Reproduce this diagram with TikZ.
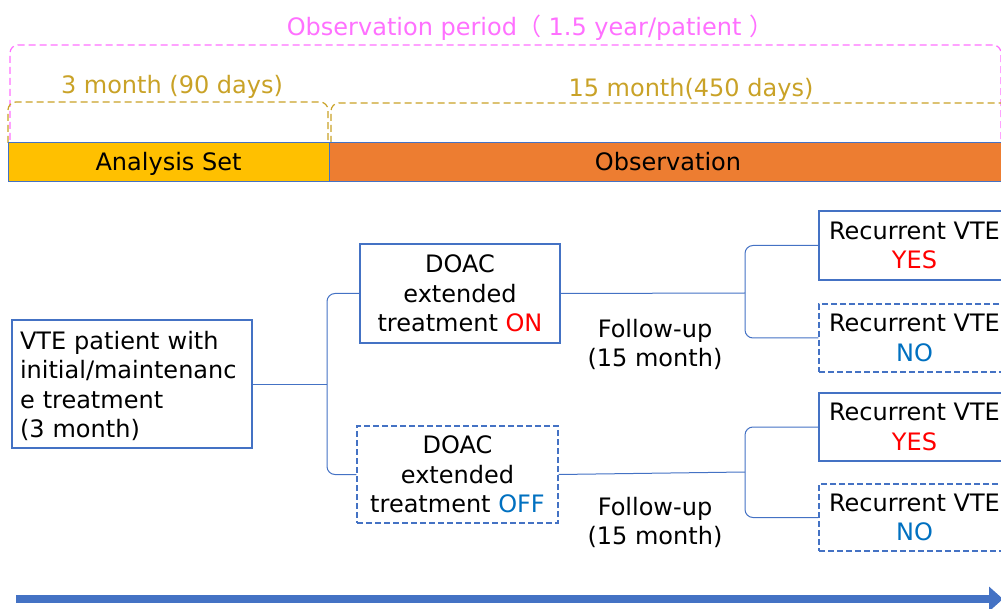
\documentclass[tikz,border=0pt]{standalone}
\usepackage{fontspec}
\setmainfont{DejaVu Sans}
\newfontfamily\cjk{Noto Sans CJK JP}
\usetikzlibrary{arrows.meta}
\definecolor{pinkline}{HTML}{FF70FF}
\definecolor{goldline}{HTML}{C9A227}
\definecolor{barblue}{HTML}{4472C4}
\definecolor{setyellow}{HTML}{FFC000}
\definecolor{obsorange}{HTML}{ED7D31}
\definecolor{onred}{HTML}{FF0000}
\definecolor{offblue}{HTML}{0070C0}

\begin{document}
\begin{tikzpicture}[x=1pt, y=-1pt,
    font=\fontsize{24}{29.5}\selectfont,
    box/.style={draw=barblue, line width=1.2pt, inner sep=0pt, align=center},
    dashbox/.style={box, dash pattern=on 6pt off 3pt},
    oneline/.style={text height=20pt, text depth=3pt, inner sep=0pt},
    bar/.style={oneline, draw=barblue, line width=1pt, minimum height=39pt},
    link/.style={draw=barblue, line width=1pt, rounded corners=8pt},
    bracket/.style={line width=1.2pt, rounded corners=8pt, dash pattern=on 7pt off 4pt}]
            \clip (0,0) rectangle (1001,609);

            % Period brackets
            \draw[bracket, pinkline] (10,140) -- (10,45) -- (1001,45) -- (1001,143);
            \node[oneline, text=pinkline] (period) at (530,27) {Observation period{\cjk （} 1.5 year/patient {\cjk ）}};
            \draw[bracket, goldline] (8,143) -- (8,102) -- (328,102) -- (328,143);
            \draw[bracket, goldline] (331,143) -- (331,103) -- (1010,103) -- (1010,143);
            \node[oneline, text=goldline] (short) at (172,85) {3 month (90 days)};
            \node[oneline, text=goldline] (long) at (691,88) {15 month(450 days)};

            % Timeline bars
            \node[bar, fill=setyellow, minimum width=321] (aset) at (168.5,162.5) {Analysis Set};
            \node[bar, fill=obsorange, minimum width=678] (obs) at (668,162.5) {Observation};

            % Patient and treatment arms
            \node[box, align=left, text width=224, inner xsep=8, minimum height=128] (pat) at (132,384) {\rule{0pt}{22pt}VTE patient with\\initial/maintenanc\\e treatment\\(3 month)};
            \node[box, minimum width=200, minimum height=99] (on) at (460,293.5) {DOAC\\extended\\treatment \textcolor{onred}{ON}};
            \node[dashbox, minimum width=201, minimum height=97] (off) at (457.5,474.5) {DOAC\\extended\\treatment \textcolor{offblue}{OFF}};

            % Follow-up
            \node[align=center] (fu1) at (655,344.5) {Follow-up\\(15 month)};
            \node[align=center] (fu2) at (655,522.5) {Follow-up\\(15 month)};

            % Outcomes
            \node[box, minimum width=191, minimum height=69] (yes1) at (914.5,245.5) {Recurrent VTE\\\textcolor{onred}{YES}};
            \node[dashbox, minimum width=191, minimum height=68] (no1) at (914.5,338) {Recurrent VTE\\\textcolor{offblue}{NO}};
            \node[box, minimum width=191, minimum height=68] (yes2) at (914.5,427) {Recurrent VTE\\\textcolor{onred}{YES}};
            \node[dashbox, minimum width=191, minimum height=67] (no2) at (914.5,517.5) {Recurrent VTE\\\textcolor{offblue}{NO}};

            % Branches
            \coordinate (j1) at (327,384);
            \draw[link] (pat.east) -- (j1);
            \draw[link] (on.west) -| (j1) |- (off.west);
            \coordinate (j2) at (745,293);
            \draw[link] (on.east) -- (j2);
            \draw[link] (yes1.west) -| (j2) |- (no1.west);
            \coordinate (j3) at (745,472);
            \draw[link] (off.east) -- (j3);
            \draw[link] (yes2.west) -| (j3) |- (no2.west);

            % Time arrow
            \coordinate (tstart) at (16,599);
            \coordinate (tend) at (1003,599);
            \draw[barblue, line width=8pt, -{Triangle[length=14pt, width=24pt]}] (tstart) -- (tend);
        \end{tikzpicture}
\end{document}
